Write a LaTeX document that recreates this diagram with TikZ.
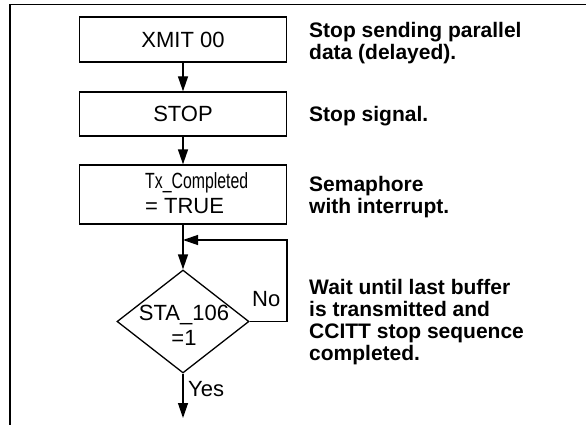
\documentclass[tikz,border=0pt]{standalone}
\usepackage{fontspec}
\setmainfont{Liberation Sans}
\usetikzlibrary{shapes.geometric,arrows.meta}
\begin{document}
\begin{tikzpicture}[x=1pt,y=-1pt,
  box/.style={draw, line width=1.3pt, minimum width=207pt, inner sep=0pt, font=\fontsize{22}{25}\selectfont},
  dec/.style={draw, diamond, aspect=1.28, minimum width=132pt, minimum height=103pt, inner sep=0pt, line width=1.3pt},
  arr/.style={line width=1.3pt, -{Triangle[length=15pt,width=10pt]}},
  note/.style={anchor=north west, align=left, inner sep=0pt, font=\fontsize{21}{22}\selectfont\bfseries},
  lbl/.style={inner sep=0pt, font=\fontsize{22}{25}\selectfont}]
\useasboundingbox (0,0) rectangle (586,425);
\draw[line width=1.8pt] (10,425) -- (10,4.5) -- (586,4.5);

\node[box, minimum height=45pt] (xmit) at (183,39.5) {XMIT 00};
\node[box, minimum height=44pt] (stop) at (183,114) {STOP};
\node[box, minimum height=59pt] (tx) at (183,194.5) {};
\node[lbl, anchor=west, align=left] (txt) at (145,193) {\scalebox{0.72}[1]{Tx\_Completed}\\= TRUE};
\node[dec] (d) at (183,321.5) {};
\node[lbl, align=center] (dt) at (184,325.6) {STA\_106\\=1};

\coordinate (j) at (183,240);
\coordinate (lr) at (287,240);
\coordinate (lb) at (287,321.5);
\coordinate (out) at (183,418);

\draw[arr] (xmit) -- (stop);
\draw[arr] (stop) -- (tx);
\draw[arr] (tx.south) -- (d.north);
\draw[arr] (d.east) -- (lb) -- (lr) -- (j);
\draw[arr] (d.south) -- (out);

\node[lbl, anchor=base west] (no) at (252,306) {No};
\node[lbl, anchor=base west] (yes) at (188,396) {Yes};

\node[note] (n1) at (309,21.7) {Stop sending parallel\\data (delayed).};
\node[note, anchor=base west] (n2) at (309,121.5) {Stop signal.};
\node[note] (n3) at (309,176.2) {Semaphore\\with interrupt.};
\node[note] (n4) at (309,278.7) {Wait until last buffer\\is transmitted and\\CCITT stop sequence\\completed.};
\end{tikzpicture}
\end{document}
